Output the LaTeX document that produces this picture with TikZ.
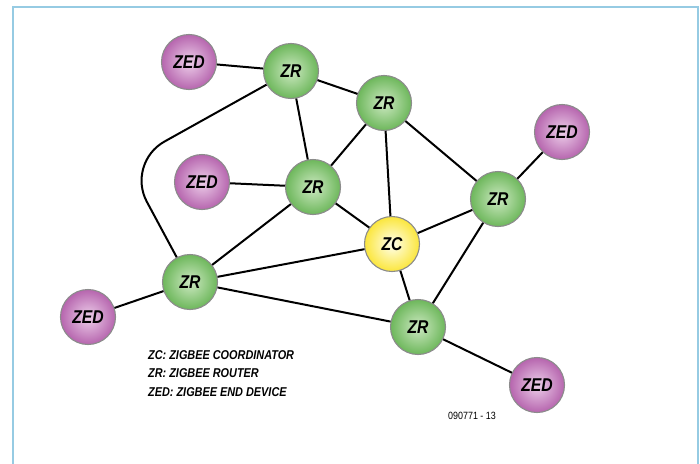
\documentclass[tikz,border=0pt]{standalone}
\usepackage{fontspec}
\usepackage{tikz}
\newfontfamily\netfont[FakeStretch=0.85]{Liberation Sans}

\definecolor{framecol}{HTML}{96CBE3}
\definecolor{zrin}{HTML}{CDE9C2}
\definecolor{zrout}{HTML}{6DB75B}
\definecolor{zedin}{HTML}{EDCFEA}
\definecolor{zedout}{HTML}{B665AE}
\definecolor{zcin}{HTML}{FFFFEE}
\definecolor{zcout}{HTML}{FBE63C}

\tikzset{
  dev/.style={circle, draw=black!45, line width=1.1pt, minimum size=55pt, inner sep=0pt,
    font=\netfont\bfseries\itshape\fontsize{18.5}{20}\selectfont, shading=radial},
  zr/.style={dev, inner color=zrin, outer color=zrout},
  zed/.style={dev, inner color=zedin, outer color=zedout},
  zc/.style={dev, inner color=zcin, outer color=zcout},
  link/.style={line width=2pt}
}

\begin{document}
\begin{tikzpicture}[x=1pt, y=-1pt]

\useasboundingbox (0, 0) rectangle (700, 463);

%% Frame
\draw [framecol, line width=1.1pt] (13, 470) -- (13, 7) -- (698, 7) -- (698, 470);

%% Define the nodes
% ZR = router, ZED = end device, ZC = coordinator
\node [zed] (ZED1) at (189, 62)  {ZED};
\node [zr]  (ZR1)  at (291, 71)  {ZR};
\node [zr]  (ZR3)  at (384, 103) {ZR};
\node [zed] (ZED2) at (202, 182) {ZED};
\node [zr]  (ZR2)  at (313, 187) {ZR};
\node [zed] (ZED3) at (562, 132) {ZED};
\node [zr]  (ZR4)  at (498, 199) {ZR};
\node [zc]  (ZC)   at (392, 244) {ZC};
\node [zr]  (ZR6)  at (190, 282) {ZR};
\node [zed] (ZED5) at (88, 317)  {ZED};
\node [zr]  (ZR5)  at (418, 327) {ZR};
\node [zed] (ZED4) at (537, 385) {ZED};

\coordinate (Bend) at (126, 163);

%% Draw the links
\draw [link] (ZED1) -- (ZR1);
\draw [link] (ZR1) -- (ZR3);
\draw [link] (ZR1) -- (ZR2);
\draw [link, rounded corners=44pt] (ZR1) -- (Bend) -- (ZR6);
\draw [link] (ZED2) -- (ZR2);
\draw [link] (ZR2) -- (ZR3);
\draw [link] (ZR2) -- (ZC);
\draw [link] (ZR2) -- (ZR6);
\draw [link] (ZR3) -- (ZC);
\draw [link] (ZR3) -- (ZR4);
\draw [link] (ZR4) -- (ZED3);
\draw [link] (ZR4) -- (ZC);
\draw [link] (ZR4) -- (ZR5);
\draw [link] (ZC) -- (ZR5);
\draw [link] (ZR6) -- (ZC);
\draw [link] (ZR6) -- (ZR5);
\draw [link] (ZR6) -- (ZED5);
\draw [link] (ZR5) -- (ZED4);

%% Legend
\node [anchor=north west, align=left, inner sep=0pt,
  font=\netfont\bfseries\itshape\fontsize{12.8}{18.5}\selectfont] (Legend) at (148, 350)
  {ZC: ZIGBEE COORDINATOR\\ZR: ZIGBEE ROUTER\\ZED: ZIGBEE END DEVICE};

\node [font=\netfont\fontsize{10.5}{12}\selectfont] (Code) at (472, 416) {090771 - 13};

\end{tikzpicture}
\end{document}
